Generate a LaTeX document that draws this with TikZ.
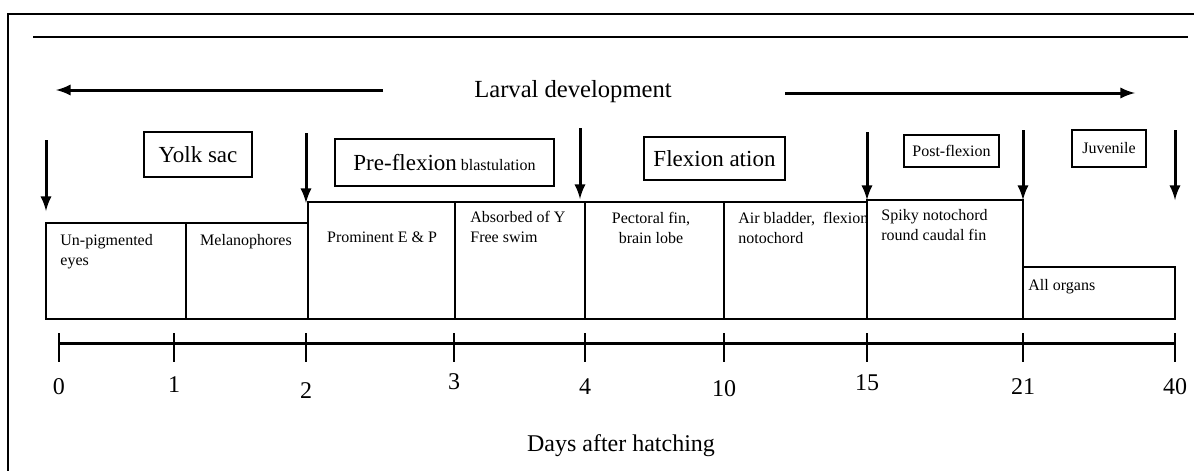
\documentclass[tikz,border=0pt]{standalone}
\usepackage{fontspec}
\setmainfont{Liberation Serif}
\usetikzlibrary{fit}

\begin{document}
\begin{tikzpicture}[
x=0.5pt,y=-0.5pt,
stagebox/.style={
  draw,
  line width=0.7pt,
  inner sep=0pt,
  font=\fontsize{11.5}{13}\selectfont
  },
smallbox/.style={stagebox,font=\fontsize{8}{10}\selectfont},
cell/.style={draw,line width=0.7pt,inner sep=0pt},
celltext/.style={inner sep=0pt,font=\fontsize{8}{10}\selectfont},
marker/.style={-latex,line width=1.5pt},
axis/.style={line width=1.5pt},
daylabel/.style={inner sep=0pt,font=\fontsize{12}{14}\selectfont}
]
\useasboundingbox (0,0) rectangle (1194,471);
\clip (0,0) rectangle (1194,471);
\draw[line width=0.8pt] (8,480) -- (8,14) -- (1200,14);
\draw[line width=0.8pt] (33,37) -- (1188,37);

\node[anchor=base,inner sep=0pt,font=\fontsize{12.3}{14}\selectfont] (larval) at (573,97) {Larval development};
\coordinate (lstart) at (383,90);
\coordinate (lend) at (56,90);
\coordinate (rstart) at (785,93);
\coordinate (rend) at (1135,93);
\draw[marker] (lstart) -- (lend);
\draw[marker] (rstart) -- (rend);

\node[stagebox,minimum width=54pt,minimum height=22.5pt] (yolk) at (198,154.5) {Yolk sac};
\node[stagebox,minimum width=109.5pt,minimum height=23.5pt] (pre) at (444.5,162.5) {Pre-flexion{\fontsize{8}{10}\selectfont{} blastulation}};
\node[stagebox,minimum width=70.5pt,minimum height=21.5pt] (flex) at (714.5,158.5) {Flexion ation};
\node[smallbox,minimum width=47.5pt,minimum height=16pt] (post) at (951.5,151) {Post-flexion};
\node[smallbox,minimum width=37pt,minimum height=18.5pt] (juv) at (1109,148.5) {Juvenile};

\foreach \x/\ya/\yb [count=\i] in {46/140/211,306/133/203,580/128/199,867/132/200,1023/130/200,1175/130/200}{
  \coordinate (top\i) at (\x,\ya);
  \coordinate (tip\i) at (\x,\yb);
  \draw[marker] (top\i) -- (tip\i);
}

\node[cell,fit={(46,223) (186,319)}] (c1) {};
\node[cell,fit={(186,223) (308,319)}] (c2) {};
\node[cell,fit={(308,202) (455,319)}] (c3) {};
\node[cell,fit={(455,202) (585,319)}] (c4) {};
\node[cell,fit={(585,202) (724,319)}] (c5) {};
\node[cell,fit={(724,202) (867,319)}] (c6) {};
\node[cell,fit={(867,200) (1023,319)}] (c7) {};
\node[cell,fit={(1023,267) (1175,319)}] (c8) {};

\node[celltext,anchor=base west,align=left] (t1) at (60,265) {Un-pigmented\\eyes};
\node[celltext,anchor=base] (t2) at (246,245) {Melanophores};
\node[celltext,anchor=base] (t3) at (382,242) {Prominent E \& P};
\node[celltext,anchor=base west,align=left] (t4) at (470,242) {Absorbed of Y\\Free swim};
\node[celltext,anchor=base,align=center] (t5) at (651,243) {Pectoral fin,\\brain lobe};
\node[celltext,anchor=base west,align=left] (t6) at (738,243) {Air bladder,\ \ flexion\\notochord};
\node[celltext,anchor=base west,align=left] (t7) at (881,240) {Spiky notochord\\round caudal fin};
\node[celltext,anchor=base west] (t8) at (1028,290) {All organs};

\draw[axis] (59,343) -- (1175,343);
\foreach \x/\d/\ly [count=\i] in {59/0/387,174/1/385,306/2/391,454/3/382,585/4/387,724/10/389,867/15/383,1023/21/387,1175/40/387}{
  \draw[line width=1.3pt] (\x,333) -- (\x,362);
  \node[daylabel] (d\i) at (\x,\ly) {\d};
}
\node[daylabel,anchor=base] (days) at (621,451) {Days after hatching};
\end{tikzpicture}
\end{document}
